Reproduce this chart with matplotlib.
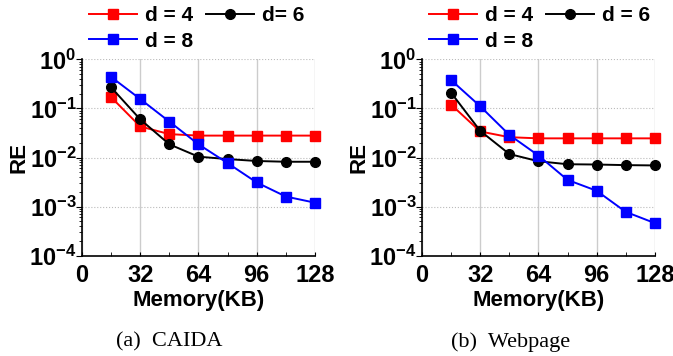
import numpy as np
import matplotlib.pyplot as plt
from matplotlib.ticker import LogLocator, MultipleLocator, NullFormatter, FuncFormatter

plt.rcParams['font.family'] = ['Liberation Sans', 'DejaVu Sans']
plt.rcParams['font.weight'] = 'bold'
plt.rcParams['mathtext.fontset'] = 'custom'
plt.rcParams['mathtext.rm'] = 'Liberation Sans:bold'
plt.rcParams['mathtext.bf'] = 'Liberation Sans:bold'
plt.rcParams['mathtext.default'] = 'bf'

# -- data
memory = [16, 32, 48, 64, 80, 96, 112, 128]

caida_d4 = [0.17, 0.043, 0.030, 0.028, 0.028, 0.028, 0.028, 0.028]
caida_d6 = [0.27, 0.060, 0.0186, 0.0104, 0.0093, 0.0085, 0.0082, 0.0082]
caida_d8 = [0.44, 0.156, 0.054, 0.0186, 0.0077, 0.0031, 0.0016, 0.0012]

web_d4 = [0.12, 0.034, 0.026, 0.0246, 0.0246, 0.0246, 0.0246, 0.0246]
web_d6 = [0.21, 0.035, 0.0118, 0.0084, 0.0073, 0.0072, 0.0070, 0.0069]
web_d8 = [0.38, 0.111, 0.029, 0.011, 0.0035, 0.0021, 0.00078, 0.00046]

captions = ["(a)  CAIDA", "(b)  Webpage"]
labels_a = ["d = 4", "d= 6", "d = 8"]
labels_b = ["d = 4", "d = 6", "d = 8"]


def log_fmt(v, pos):
    return r"$\mathbf{10^{%d}}$" % int(round(np.log10(v)))


fig = plt.figure(figsize=(6.73, 3.56), dpi=100)
ax1 = fig.add_axes([0.1218, 0.282, 0.3462, 0.551])
ax2 = fig.add_axes([0.627, 0.282, 0.346, 0.551])

panels = [(ax1, [caida_d4, caida_d6, caida_d8], labels_a, captions[0], 0.251),
          (ax2, [web_d4, web_d6, web_d8], labels_b, captions[1], 0.758)]

styles = [("#ff0000", "s"), ("#000000", "o"), ("#0000ff", "s")]

for ax, series, labs, cap, capx in panels:
    lines = []
    for ys, (c, m), lab in zip(series, styles, labs):
        ln, = ax.plot(memory, ys, color=c, marker=m, markersize=7, lw=1.4,
                      label=lab, clip_on=False, zorder=3)
        lines.append(ln)
    ax.set_yscale("log")
    ax.set_ylim(1e-4, 1)
    ax.set_xlim(0, 128)
    ax.xaxis.set_major_locator(MultipleLocator(32))
    ax.xaxis.set_minor_locator(MultipleLocator(16))
    ax.yaxis.set_major_locator(LogLocator(base=10, numticks=10))
    ax.yaxis.set_major_formatter(FuncFormatter(log_fmt))
    ax.yaxis.set_minor_locator(LogLocator(base=10, subs=np.arange(2, 10), numticks=20))
    ax.yaxis.set_minor_formatter(NullFormatter())

    ax.grid(True, axis="x", color="#cccccc", lw=1.0, ls="-")
    ax.grid(True, axis="y", color="#bbbbbb", lw=0.8, ls=":")
    ax.set_axisbelow(True)
    for s in ["top", "right"]:
        ax.spines[s].set_visible(False)
    ax.spines["left"].set_linewidth(1.2)
    ax.spines["bottom"].set_linewidth(1.2)

    ax.tick_params(axis="x", which="both", direction="in", length=3, labelsize=17, pad=6)
    ax.tick_params(axis="y", which="major", direction="out", length=4, labelsize=17, pad=0)
    ax.tick_params(axis="y", which="minor", direction="out", length=2)
    for t in ax.get_xticklabels():
        t.set_fontweight("bold")

    ax.set_xlabel("Memory(KB)", fontsize=16, fontweight="bold", labelpad=2)
    ax.set_ylabel("RE", fontsize=16, fontweight="bold", labelpad=0)

    # row-wise legend: d=4, d=6 on top, d=8 below
    order = [lines[0], lines[2], lines[1]]
    ax.legend(handles=order, loc="upper left", bbox_to_anchor=(0.03, 1.27), ncol=2,
              frameon=False, handlelength=2.3, columnspacing=0.6,
              handletextpad=0.4, labelspacing=0.3, borderaxespad=0.0,
              borderpad=0.0, prop={"weight": "bold", "size": 15})

    fig.text(capx, 0.04, cap, ha="center", va="center",
             fontsize=16, family="Liberation Serif", fontweight="normal")

fig.savefig("out.png", dpi=100)
